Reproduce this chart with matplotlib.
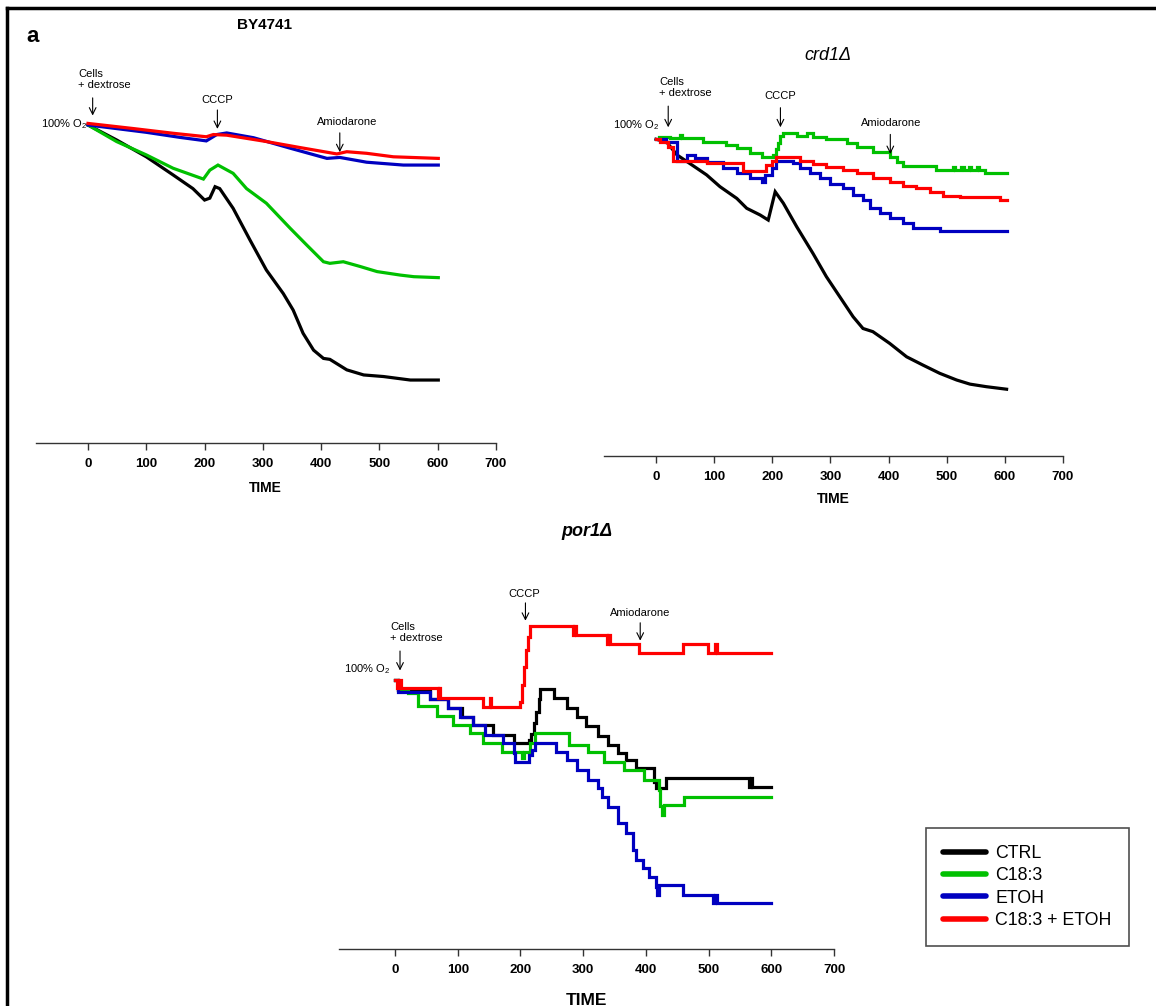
import matplotlib
matplotlib.use("Agg")
import matplotlib.pyplot as plt
from matplotlib.lines import Line2D

plt.rcParams["font.family"] = ["Liberation Sans", "DejaVu Sans"]

COLORS = {"CTRL": "#000000", "C18:3": "#00c000", "ETOH": "#0000c0", "C18:3 + ETOH": "#ff0000"}
SERIES = ["CTRL", "C18:3", "ETOH", "C18:3 + ETOH"]

# --- BY4741 (O2 level, % of start) ---
by_ctrl_t = [0, 49, 100, 146, 180, 200, 209, 218, 226, 249, 278, 306, 335, 352, 369, 387, 404, 415, 444, 473, 507, 553, 601]
by_ctrl_v = [100, 95.3, 90, 84.3, 80, 76.4, 77, 80.6, 80, 73.8, 63.8, 54.4, 47, 41.8, 34.5, 29.2, 26.6, 26.3, 23, 21.4, 20.9, 19.8, 19.8]
by_c18_t = [0, 49, 100, 146, 198, 209, 223, 249, 272, 306, 347, 375, 404, 415, 438, 467, 496, 536, 559, 601]
by_c18_v = [100, 94.8, 90.6, 86.4, 83, 85.8, 87.4, 84.8, 80, 75.4, 67.5, 62.3, 57, 56.5, 57, 55.5, 53.9, 52.8, 52.3, 52]
by_etoh_t = [0, 100, 158, 203, 221, 238, 284, 347, 410, 432, 478, 541, 601]
by_etoh_v = [100, 97.7, 96.1, 95, 97, 97.5, 96, 92.7, 89.5, 89.8, 88.3, 87.4, 87.4]
by_mix_t = [0, 77, 146, 203, 215, 238, 306, 364, 427, 444, 478, 524, 601]
by_mix_v = [100.5, 98.9, 97.4, 96.3, 97, 96.8, 94.8, 92.9, 90.9, 91.6, 91.1, 90, 89.5]

# --- crd1 delta ---
crd_ctrl_t = [0, 18, 36, 58, 87, 110, 139, 156, 179, 193, 205, 219, 242, 270, 293, 316, 339, 356, 373, 402, 431, 459, 488, 517, 540, 568, 603]
crd_ctrl_v = [99.6, 98.8, 94.7, 92, 88.4, 84.7, 81, 77.9, 75.8, 74.2, 83.1, 79.5, 72.1, 63.7, 56.4, 50.1, 43.8, 40.1, 39.1, 35.4, 31.2, 28.6, 26, 23.9, 22.6, 21.8, 21]
crd_c18_t = [5, 24, 41, 45, 81, 121, 139, 162, 182, 202, 206, 210, 214, 219, 242, 259, 270, 293, 328, 345, 373, 402, 414, 425, 482, 511, 515, 525, 529, 538, 542, 552, 556, 565, 603]
crd_c18_v = [100.4, 100.1, 100.8, 99.9, 98.8, 97.8, 96.8, 95.2, 94.1, 94.8, 96.5, 98.3, 100.5, 101.5, 100.6, 101.5, 100.4, 99.6, 98.3, 97.3, 95.7, 94.1, 92.6, 91.3, 89.9, 91, 89.9, 91, 89.9, 91, 89.9, 91, 89.9, 89.1, 89.1]
crd_etoh_t = [0, 18, 36, 53, 67, 87, 116, 139, 162, 182, 187, 199, 207, 236, 247, 265, 282, 299, 322, 339, 356, 368, 385, 402, 425, 442, 488, 603]
crd_etoh_v = [99.6, 98.8, 92.9, 94.7, 93.6, 92.6, 90.5, 88.9, 87.3, 86.3, 88.4, 90.5, 92.9, 92, 90.5, 88.9, 87.3, 85.5, 84.2, 82.1, 80.5, 77.9, 76.3, 74.7, 73.2, 71.6, 70.9, 70.9]
crd_mix_t = [0, 7, 21, 30, 87, 150, 190, 199, 207, 247, 270, 293, 322, 345, 373, 402, 425, 448, 471, 494, 522, 591, 603]
crd_mix_v = [99.6, 98.8, 97.3, 92.9, 92, 89.7, 91.5, 92.9, 94.1, 92.9, 91.8, 91, 89.9, 88.9, 87.3, 86.3, 84.9, 84.2, 83.1, 81.8, 81.3, 80.5, 80.5]

# --- por1 delta ---
por_ctrl_t = [0, 5, 56, 85, 107, 125, 157, 189, 213, 217, 221, 225, 229, 232, 253, 275, 291, 304, 323, 339, 355, 368, 384, 413, 416, 432, 565, 568, 570, 573, 600]
por_ctrl_v = [100, 96.3, 92.8, 89.5, 86.4, 83.3, 79.6, 76.5, 77.7, 80, 84, 88, 93, 96.5, 93.2, 89.5, 86.4, 82.9, 79.2, 75.8, 72.7, 70.3, 67.2, 62.2, 59.7, 63.4, 60.1, 63.4, 60.1, 60.1, 60.1]
por_c18_t = [0, 5, 21, 37, 67, 93, 120, 141, 171, 203, 206, 208, 216, 224, 277, 307, 333, 365, 397, 421, 423, 425, 429, 461, 600]
por_c18_v = [100, 96.3, 95.3, 90.3, 86.6, 83.3, 80.2, 76.5, 73.4, 70.9, 73.4, 73.4, 76.5, 80.2, 75.8, 73.4, 69.6, 66.5, 62.8, 59.1, 53, 49.8, 53.5, 56.6, 56.6]
por_etoh_t = [0, 5, 56, 85, 104, 125, 144, 173, 189, 192, 213, 218, 223, 256, 275, 291, 307, 323, 330, 339, 355, 368, 379, 384, 395, 405, 416, 418, 421, 459, 507, 510, 513, 600]
por_etoh_v = [100, 95.5, 92.8, 89.5, 86.4, 83.3, 79.6, 76.5, 73, 69.6, 72, 74, 76.5, 73.4, 70.3, 66.5, 62.8, 59.7, 56.6, 52.9, 46.7, 43, 36.8, 33.1, 30, 26.9, 23.2, 20.1, 23.8, 20.1, 17, 20.1, 17, 17]
por_mix_t = [0, 3, 6, 9, 16, 68, 70, 72, 141, 151, 153, 200, 203, 206, 209, 212, 215, 284, 286, 289, 338, 340, 343, 389, 459, 499, 511, 513, 600]
por_mix_v = [100, 97, 100, 97, 96.9, 93.2, 96.9, 93.2, 90.1, 93.2, 90.1, 92, 98, 105, 111, 116, 120.1, 116.7, 120.1, 116.7, 113.4, 116.7, 113.4, 109.9, 113.4, 109.9, 113.4, 109.9, 109.9]

# event markers: (label, time, text y, arrow tail y, arrow tip y, text x)
by_events = [("Cells\n+ dextrose", 8, 111, 109.4, 102.1, -17), ("CCCP", 222, 106.3, 105.6, 97.9, None), ("Amiodarone", 432, 99.5, 98.4, 90.6, 444)]
crd_events = [("Cells\n+ dextrose", 21, 112.5, 110.9, 102.5, 5), ("CCCP", 214, 111.6, 110.4, 102.5, None), ("Amiodarone", 403, 103, 102, 94.1, 404)]
por_events = [("Cells\n+ dextrose", 8, 113.6, 111.8, 102.5, -8), ("CCCP", 208, 130.2, 129.7, 121, 206), ("Amiodarone", 391, 122.9, 122.3, 113.6, 391)]

W, H = 1156, 1006
fig = plt.figure(figsize=(W / 100, H / 100), dpi=100)


def make_axes(x0, x700, y_axis, px_per_unit):
    # build axes from pixel placement of t=0, t=700 and the baseline
    per_t = (x700 - x0) / 700.0
    left = x0 - 90 * per_t
    top_val = 135
    ax = fig.add_axes([left / W, 1 - y_axis / H, (x700 - left) / W, top_val * px_per_unit / H])
    ax.set_xlim(-90, 700)
    ax.set_ylim(0, top_val)
    for s in ["left", "right", "top"]:
        ax.spines[s].set_visible(False)
    ax.spines["bottom"].set_color("#333333")
    ax.spines["bottom"].set_linewidth(1.0)
    ax.set_yticks([])
    ax.set_xticks(range(0, 701, 100))
    ax.tick_params(axis="x", direction="out", length=5, width=1, color="#333333", pad=6)
    for lab in ax.get_xticklabels():
        lab.set_fontweight("bold")
        lab.set_fontsize(9.5)
    ax.patch.set_alpha(0)
    return ax


def draw_panel(ax, data, steps, events, o2_pos):
    for name, (t, v), st in zip(SERIES, data, steps):
        ax.plot(t, v, color=COLORS[name], lw=2.3, label=name,
                drawstyle="steps-post" if st else "default", solid_joinstyle="miter", clip_on=False)
    for label, t, ty, tail, tip, tx in events:
        if label.startswith("Cells"):
            ax.text(tx, ty, label, ha="left", va="bottom", fontsize=8, linespacing=1.15)
        else:
            ax.text(t if tx is None else tx, ty, label, ha="center", va="bottom", fontsize=8)
        ax.annotate("", xy=(t, tip), xytext=(t, tail),
                    arrowprops=dict(arrowstyle="->", lw=0.8, color="black", mutation_scale=12),
                    annotation_clip=False)
    ax.text(o2_pos[0], o2_pos[1], "100% O$_\\mathregular{2}$", ha="right", va="center", fontsize=8)


# BY4741
ax1 = make_axes(88, 496, 443, 3.18)
draw_panel(ax1, [(by_ctrl_t, by_ctrl_v), (by_c18_t, by_c18_v), (by_etoh_t, by_etoh_v), (by_mix_t, by_mix_v)],
           [False] * 4, by_events, (-2, 100.3))
ax1.set_xlabel("TIME", fontsize=10, fontweight="bold", labelpad=8)

# crd1
ax2 = make_axes(656, 1063, 456, 3.18)
draw_panel(ax2, [(crd_ctrl_t, crd_ctrl_v), (crd_c18_t, crd_c18_v), (crd_etoh_t, crd_etoh_v), (crd_mix_t, crd_mix_v)],
           [False, True, True, True], crd_events, (6, 103.9))
ax2.set_xlabel("TIME", fontsize=10, fontweight="bold", labelpad=6)

# por1
ax3 = make_axes(395, 834, 949, 2.69)
draw_panel(ax3, [(por_ctrl_t, por_ctrl_v), (por_c18_t, por_c18_v), (por_etoh_t, por_etoh_v), (por_mix_t, por_mix_v)],
           [True] * 4, por_events, (-7, 104))
ax3.set_xlabel("TIME", fontsize=12.5, fontweight="bold", labelpad=12)

# titles
fig.text(264 / W, 1 - 25 / H, "BY4741", ha="center", va="center", fontsize=11, fontweight="bold")
fig.text(33 / W, 1 - 37 / H, "a", ha="center", va="center", fontsize=16, fontweight="bold")
fig.text(828 / W, 1 - 55 / H, "crd1Δ", ha="center", va="center", fontsize=13, style="italic")
fig.text(587 / W, 1 - 531 / H, "por1Δ", ha="center", va="center", fontsize=13, style="italic", fontweight="bold")

# legend
handles = [Line2D([], [], color=COLORS[n], lw=4, solid_capstyle="round") for n in SERIES]
leg = fig.legend(handles, SERIES, loc="upper left", bbox_to_anchor=(926 / W, 1 - 828 / H),
                 fontsize=12.8, frameon=True, fancybox=False, handlelength=2.4, handletextpad=0.55,
                 labelspacing=0.3, borderpad=0.95, borderaxespad=0)
leg.get_frame().set_edgecolor("#222222")
leg.get_frame().set_linewidth(1.2)

# outer frame (top and left only)
fig.add_artist(Line2D([7 / W, 1], [1 - 8 / H, 1 - 8 / H], color="black", lw=2.5))
fig.add_artist(Line2D([7 / W, 7 / W], [1 - 8 / H, 0], color="black", lw=2.5))

fig.savefig("out.png", dpi=100)
